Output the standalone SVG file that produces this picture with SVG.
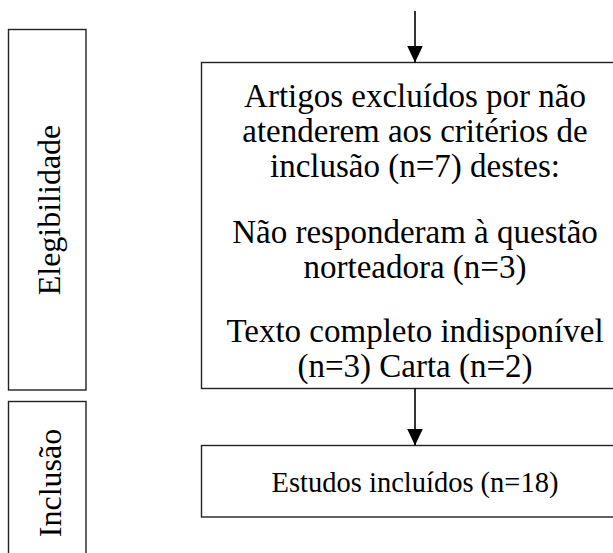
<svg xmlns="http://www.w3.org/2000/svg" width="613" height="553" viewBox="0 0 613 553">
<style>
.box{fill:#fff;stroke:#222;stroke-width:1.4}
.t{font-family:"Liberation Serif","Times New Roman",serif;fill:#000;text-anchor:middle}
.m{font-size:33px}
.s{font-size:28.5px}
.l{font-size:32px}
.c{stroke:#000;stroke-width:1.6;fill:none}
</style>
<defs>
<marker id="ah" markerWidth="17" markerHeight="16" refX="17" refY="8" orient="auto" markerUnits="userSpaceOnUse">
<path d="M0,0 L17,8 L0,16 Z" fill="#000"/>
</marker>
</defs>
<g id="elegibilidade">
<rect class="box" x="8.5" y="29.5" width="77.5" height="360.5"/>
<text class="t l" transform="translate(60,210) rotate(-90)">Elegibilidade</text>
</g>
<g id="inclusao">
<rect class="box" x="8.5" y="401.5" width="77.5" height="170"/>
<text class="t l" transform="translate(61,483) rotate(-90)">Inclusão</text>
</g>
<g id="excluidos">
<rect class="box" x="201.5" y="62.5" width="430" height="326"/>
<text class="t m" x="415" y="107">Artigos excluídos por não</text>
<text class="t m" x="415" y="142">atenderem aos critérios de</text>
<text class="t m" x="415" y="177">inclusão (n=7) destes:</text>
<text class="t m" x="415" y="243">Não responderam à questão</text>
<text class="t m" x="415" y="278">norteadora (n=3)</text>
<text class="t m" x="415" y="342">Texto completo indisponível</text>
<text class="t m" x="415" y="377">(n=3) Carta (n=2)</text>
</g>
<g id="incluidos">
<rect class="box" x="201.5" y="445.5" width="430" height="71.5"/>
<text class="t s" x="415" y="492">Estudos incluídos (n=18)</text>
</g>
<g id="connectors">
<line class="c" x1="415" y1="11" x2="415" y2="62.5" marker-end="url(#ah)"/>
<line class="c" x1="415" y1="388.5" x2="415" y2="445.5" marker-end="url(#ah)"/>
</g>
</svg>
